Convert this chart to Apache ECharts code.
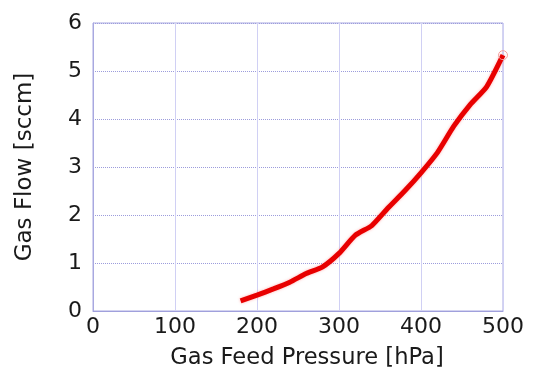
<!DOCTYPE html>
<html>
<head>
<meta charset="utf-8">
<script src="https://cdn.jsdelivr.net/npm/echarts@6/dist/echarts.min.js"></script>
<style>html,body{margin:0;padding:0;background:#fff}#c{width:534px;height:371px}</style>
</head>
<body>
<div id="c"></div>
<script>
var pressure = [180, 200, 220, 240, 260, 280, 300, 320, 340, 360, 380, 400, 420, 440, 460, 480, 500];
var gasFlow = [0.21, 0.33, 0.46, 0.6, 0.78, 0.92, 1.2, 1.58, 1.78, 2.15, 2.5, 2.88, 3.3, 3.85, 4.3, 4.67, 5.33];
var xTicks = [0, 100, 200, 300, 400, 500];
var yTicks = [0, 1, 2, 3, 4, 5, 6];
var xName = 'Gas Feed Pressure [hPa]';
var yName = 'Gas Flow [sccm]';

var data = pressure.map(function (p, i) { return [p, gasFlow[i]]; });
var font = '"DejaVu Sans", "Noto Sans", sans-serif';
var chart = echarts.init(document.getElementById('c'));
chart.setOption({
  animation: false,
  backgroundColor: '#fff',
  grid: { left: 93, right: 31, top: 23, bottom: 60, show: true, borderColor: '#a8a8e0', borderWidth: 1, backgroundColor: 'transparent', containLabel: false, outerBoundsMode: 'none' },
  xAxis: {
    type: 'value', min: 0, max: 500, interval: 100,
    name: xName, nameLocation: 'middle', nameGap: 36,
    nameTextStyle: { fontFamily: font, fontSize: 22.6, color: '#1a1a1a', padding: [0, 0, 0, 18] },
    axisLine: { show: true, lineStyle: { color: '#a0a0dc' } },
    axisTick: { show: false },
    axisLabel: { fontFamily: font, fontSize: 22, color: '#1a1a1a', margin: 5, formatter: function (v) { return xTicks.indexOf(v) >= 0 ? String(v) : ''; } },
    splitLine: { show: true, lineStyle: { color: '#d0d0f4', type: 'solid', width: 1 } }
  },
  yAxis: {
    type: 'value', min: 0, max: 6, interval: 1,
    name: yName, nameLocation: 'middle', nameGap: 56, nameRotate: 90,
    nameTextStyle: { fontFamily: font, fontSize: 23, color: '#1a1a1a' },
    axisLine: { show: true, lineStyle: { color: '#a8a8e0' } },
    axisTick: { show: false },
    axisLabel: { fontFamily: font, fontSize: 22, color: '#1a1a1a', margin: 11, formatter: function (v) { return yTicks.indexOf(v) >= 0 ? String(v) : ''; } },
    splitLine: { show: true, lineStyle: { color: '#9c9cdc', type: 'dotted', width: 1 } }
  },
  series: [{
    type: 'line', data: data, smooth: 0.2,
    symbol: 'none',
    lineStyle: { color: '#e80000', width: 5, shadowColor: 'rgba(255,120,120,0.6)', shadowBlur: 3 },
    markPoint: {
      symbol: 'circle', symbolSize: 9,
      itemStyle: { color: 'rgba(255,255,255,0)', borderColor: '#f4a0a0', borderWidth: 1 },
      label: { show: false },
      data: [{ coord: data[data.length - 1] }]
    }
  }]
});
</script>
</body>
</html>
